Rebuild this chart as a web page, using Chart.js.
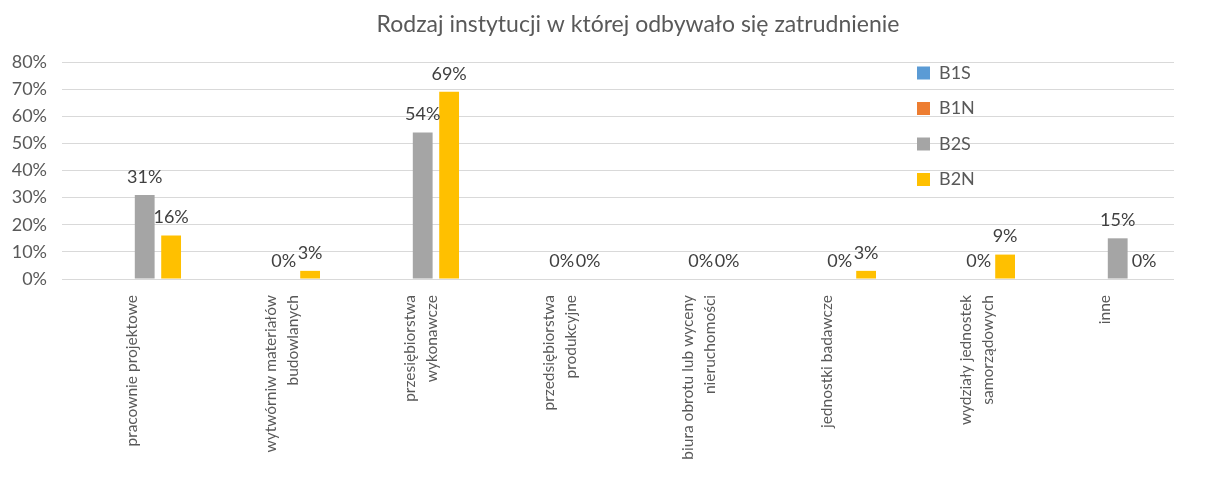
<!DOCTYPE html>
<html>
<head>
<meta charset="utf-8">
<script src="https://cdn.jsdelivr.net/npm/chart.js@4"></script>
<style>
  html, body { margin: 0; padding: 0; background: #fff; }
  #wrap { width: 1214px; height: 488px; }
</style>
</head>
<body>
<div id="wrap"><canvas id="chart1"></canvas></div>
<script>
// dane z wykresu
const categories = [
  'pracownie projektowe',
  ['wytwórniw materiałów', 'budowlanych'],
  ['przesiębiorstwa', 'wykonawcze'],
  ['przedsiębiorstwa', 'produkcyjne'],
  ['biura obrotu lub wyceny', 'nieruchomości'],
  'jednostki badawcze',
  ['wydziały jednostek', 'samorządowych'],
  'inne'
];
const seriesNames = ['B1S', 'B1N', 'B2S', 'B2N'];
const seriesColors = ['#5B9BD5', '#ED7D31', '#A5A5A5', '#FFC000'];
const b1s = [null, null, null, null, null, null, null, null];
const b1n = [null, null, null, null, null, null, null, null];
const b2s = [31, 0, 54, 0, 0, 0, 0, 15];
const b2n = [16, 3, 69, 0, 0, 3, 9, 0];
const yTicks = [0, 10, 20, 30, 40, 50, 60, 70, 80];

const FONT = 'Lato, Carlito, Calibri, sans-serif';

// etykiety z wartościami nad słupkami
const valueLabels = {
  id: 'valueLabels',
  afterDatasetsDraw(chart) {
    const ctx = chart.ctx;
    ctx.save();
    ctx.font = '18px ' + FONT;
    ctx.fillStyle = '#404040';
    ctx.textAlign = 'center';
    ctx.textBaseline = 'middle';
    chart.data.datasets.forEach((ds, i) => {
      const meta = chart.getDatasetMeta(i);
      meta.data.forEach((bar, j) => {
        const v = ds.data[j];
        if (v === null || v === undefined) return;
        ctx.fillText(v + '%', bar.x, bar.y - 18);
      });
    });
    ctx.restore();
  }
};

// legenda w obszarze wykresu + przesuniecie tytulu
const placeBoxes = {
  id: 'placeBoxes',
  afterLayout(chart) {
    const lg = chart.legend;
    if (lg) {
      const w = lg.width, h = lg.height;
      lg.left = 899.5; lg.right = lg.left + w;
      lg.top = 46.5; lg.bottom = lg.top + h;
    }
    const t = chart.titleBlock;
    if (t) { t.left += 51; t.right += 51; }
  }
};

new Chart(document.getElementById('chart1'), {
  type: 'bar',
  data: {
    labels: categories,
    datasets: [b1s, b1n, b2s, b2n].map((d, i) => ({
      label: seriesNames[i],
      data: d,
      backgroundColor: seriesColors[i],
      borderWidth: 0,
      categoryPercentage: 0.76,
      barPercentage: 0.75
    }))
  },
  options: {
    responsive: true,
    maintainAspectRatio: false,
    animation: false,
    layout: { padding: { left: 0, right: 40, top: 0, bottom: 0 } },
    plugins: {
      title: {
        display: true,
        text: 'Rodzaj instytucji w której odbywało się zatrudnienie',
        color: '#595959',
        font: { family: FONT, size: 23, weight: 'normal' },
        padding: { top: 11.2, bottom: 23.2 }
      },
      legend: {
        position: 'chartArea',
        align: 'start',
        labels: {
          boxWidth: 13,
          boxHeight: 13,
          padding: 17.5,
          color: '#595959',
          font: { family: FONT, size: 18 }
        }
      },
      tooltip: { enabled: false }
    },
    scales: {
      x: {
        grid: { display: false },
        border: { display: false },
        afterFit(scale) { scale.height = 209; },
        ticks: {
          autoSkip: false,
          minRotation: 90,
          maxRotation: 90,
          padding: 8,
          color: '#595959',
          font: { family: FONT, size: 15.5, lineHeight: 1.45 }
        }
      },
      y: {
        min: 0,
        max: 80,
        afterFit(scale) { scale.width = 62; },
        afterBuildTicks(scale) { scale.ticks = yTicks.map(v => ({ value: v })); },
        grid: { color: '#D9D9D9', drawTicks: false },
        border: { display: false },
        ticks: {
          padding: 15,
          color: '#595959',
          font: { family: FONT, size: 18 },
          callback: v => v + '%'
        }
      }
    }
  },
  plugins: [valueLabels, placeBoxes]
});
</script>
</body>
</html>
